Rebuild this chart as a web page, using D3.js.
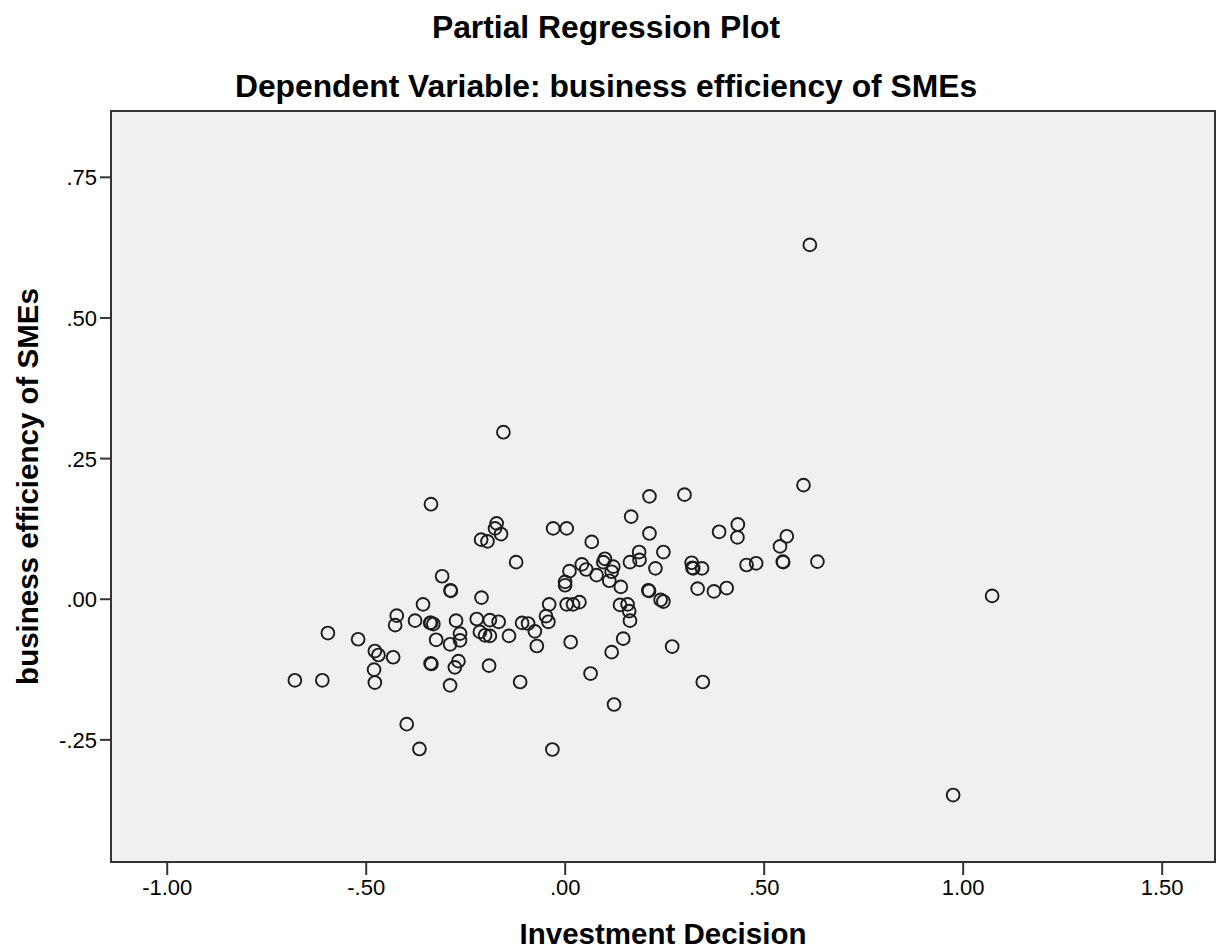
<!DOCTYPE html>
<html>
<head>
<meta charset="utf-8">
<script src="https://cdn.jsdelivr.net/npm/d3@7"></script>
<style>
  html, body { margin: 0; padding: 0; background: #fff; }
  svg { display: block; }
  text { font-family: Arial, "Liberation Sans", Helvetica, sans-serif; fill: #000; }
</style>
</head>
<body>
<svg id="chart" width="1223" height="950"></svg>
<script>
// Partial regression residuals: Investment Decision (x) vs business efficiency of SMEs (y)
const investmentDecision = [
  -0.678, -0.609, -0.595, -0.519, -0.477, -0.468, -0.479, -0.477, -0.431, -0.422,
  -0.426, -0.397, -0.365, -0.376, -0.356, -0.336, -0.338, -0.336, -0.330, -0.323,
  -0.337, -0.335, -0.308, -0.287, -0.286, -0.288, -0.288, -0.273, -0.276, -0.267,
  -0.263, -0.263, -0.210, -0.194, -0.209, -0.221, -0.213, -0.200, -0.188, -0.188,
  -0.190, -0.171, -0.175, -0.160, -0.154, -0.166, -0.140, -0.122, -0.112, -0.107,
  -0.092, -0.075, -0.070, -0.047, -0.041, -0.039, -0.031, -0.029, 0.005, 0.001,
  0.001, 0.012, 0.005, 0.021, 0.037, 0.015, 0.043, 0.054, 0.068, 0.080,
  0.097, 0.101, 0.122, 0.118, 0.112, 0.141, 0.139, 0.158, 0.162, 0.164,
  0.147, 0.118, 0.065, 0.124, 0.164, 0.167, 0.187, 0.188, 0.213, 0.213,
  0.210, 0.212, 0.228, 0.248, 0.241, 0.248, 0.270, 0.301, 0.319, 0.321,
  0.323, 0.345, 0.334, 0.347, 0.375, 0.407, 0.388, 0.435, 0.434, 0.457,
  0.481, 0.541, 0.558, 0.548, 0.549, 0.635, 0.600, 0.616, 1.074, 0.976
];
const businessEfficiency = [
  -0.145, -0.145, -0.061, -0.072, -0.093, -0.100, -0.126, -0.149, -0.104, -0.030,
  -0.047, -0.223, -0.267, -0.039, -0.010, 0.168, -0.043, -0.043, -0.045, -0.073,
  -0.115, -0.116, 0.040, 0.015, 0.014, -0.081, -0.154, -0.039, -0.122, -0.111,
  -0.062, -0.074, 0.105, 0.102, 0.002, -0.036, -0.059, -0.065, -0.066, -0.038,
  -0.119, 0.134, 0.125, 0.115, 0.296, -0.041, -0.066, 0.065, -0.148, -0.043,
  -0.044, -0.058, -0.084, -0.031, -0.041, -0.010, -0.268, 0.125, 0.125, 0.030,
  0.024, 0.049, -0.010, -0.010, -0.006, -0.077, 0.061, 0.052, 0.101, 0.042,
  0.065, 0.071, 0.057, 0.048, 0.032, 0.021, -0.011, -0.010, -0.022, -0.039,
  -0.071, -0.095, -0.133, -0.188, 0.065, 0.146, 0.083, 0.069, 0.182, 0.116,
  0.015, 0.014, 0.054, 0.083, -0.002, -0.005, -0.085, 0.185, 0.064, 0.055,
  0.054, 0.054, 0.018, -0.148, 0.013, 0.019, 0.119, 0.132, 0.109, 0.060,
  0.063, 0.093, 0.111, 0.066, 0.065, 0.066, 0.202, 0.629, 0.005, -0.349
];
const xTickValues = [-1.0, -0.5, 0.0, 0.5, 1.0, 1.5];
const xTickLabels = ["-1.00", "-.50", ".00", ".50", "1.00", "1.50"];
const yTickValues = [-0.25, 0.0, 0.25, 0.5, 0.75];
const yTickLabels = ["-.25", ".00", ".25", ".50", ".75"];

const titleText = "Partial Regression Plot";
const subtitleText = "Dependent Variable: business efficiency of SMEs";
const xLabelText = "Investment Decision";
const yLabelText = "business efficiency of SMEs";

const points = investmentDecision.map((x, i) => ({ x, y: businessEfficiency[i] }));

const svg = d3.select("#chart");
const margin = { top: 111, right: 8, bottom: 88, left: 111 };
const W = 1223, H = 950;
const plotW = W - margin.left - margin.right;
const plotH = H - margin.top - margin.bottom;

const x = d3.scaleLinear().domain([-1.140, 1.634]).range([0, plotW]);
const y = d3.scaleLinear().domain([-0.468, 0.867]).range([plotH, 0]);

const g = svg.append("g").attr("transform", `translate(${margin.left},${margin.top})`);

// plot background
g.append("rect")
  .attr("width", plotW).attr("height", plotH)
  .attr("fill", "#f0f0f0");

// axes
const xAxis = d3.axisBottom(x)
  .tickValues(xTickValues)
  .tickFormat((d, i) => xTickLabels[i])
  .tickSize(13).tickSizeOuter(0);
const yAxis = d3.axisLeft(y)
  .tickValues(yTickValues)
  .tickFormat((d, i) => yTickLabels[i])
  .tickSize(11).tickSizeOuter(0);

const gx = g.append("g").attr("transform", `translate(0,${plotH})`).call(xAxis);
const gy = g.append("g").call(yAxis);

[gx, gy].forEach(a => {
  a.select(".domain").remove();
  a.selectAll(".tick line").attr("stroke", "#333").attr("stroke-width", 2);
  a.selectAll(".tick text").attr("font-size", 22).attr("fill", "#111")
    .style("font-family", "Arial, 'Liberation Sans', sans-serif");
});
gx.selectAll(".tick text").attr("y", 17).attr("dy", "0.71em");
gy.selectAll(".tick text").attr("x", -14).attr("dy", "0.36em");

// frame
g.append("rect")
  .attr("width", plotW).attr("height", plotH)
  .attr("fill", "none").attr("stroke", "#333").attr("stroke-width", 2);

// markers
g.append("g").selectAll("circle")
  .data(points)
  .join("circle")
  .attr("cx", d => x(d.x))
  .attr("cy", d => y(d.y))
  .attr("r", 6.4)
  .attr("fill", "none")
  .attr("stroke", "#1c1c1c")
  .attr("stroke-width", 1.9);

// titles
svg.append("text")
  .attr("x", 606).attr("y", 38)
  .attr("text-anchor", "middle")
  .attr("font-size", 31.8).attr("font-weight", "bold")
  .text(titleText);
svg.append("text")
  .attr("x", 606).attr("y", 97)
  .attr("text-anchor", "middle")
  .attr("font-size", 31.8).attr("font-weight", "bold")
  .text(subtitleText);

// axis titles
svg.append("text")
  .attr("x", margin.left + plotW / 2).attr("y", 944)
  .attr("text-anchor", "middle")
  .attr("font-size", 29.5).attr("font-weight", "bold")
  .text(xLabelText);
svg.append("text")
  .attr("transform", `translate(38,${margin.top + plotH / 2}) rotate(-90)`)
  .attr("text-anchor", "middle")
  .attr("font-size", 29.5).attr("font-weight", "bold")
  .text(yLabelText);
</script>
</body>
</html>
